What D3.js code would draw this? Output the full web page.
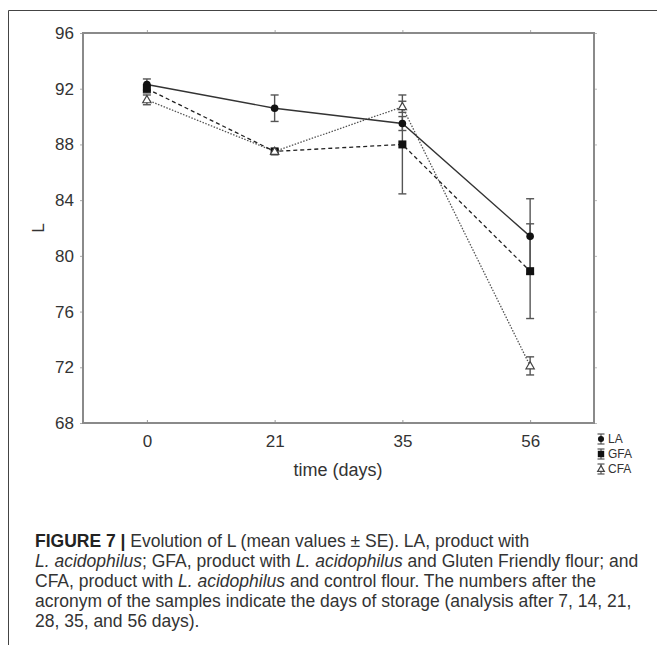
<!DOCTYPE html>
<html><head><meta charset="utf-8">
<script src="https://cdn.jsdelivr.net/npm/d3@7"></script>
<style>body{margin:0;background:#fff}svg{display:block}</style>
</head><body>
<script>
const days = ["0", "21", "35", "56"];
const yTicks = [68, 72, 76, 80, 84, 88, 92, 96];
const seriesNames = ["LA", "GFA", "CFA"];
const LA_mean = [92.3, 90.6, 89.5, 81.4];
const LA_se = [0.4, 0.95, 0.5, 2.7];
const GFA_mean = [92.0, 87.5, 88.0, 78.9];
const GFA_se = [0.3, 0.15, 3.55, 3.4];
const CFA_mean = [91.2, 87.5, 90.7, 72.1];
const CFA_se = [0.35, 0.15, 0.4, 0.65];
const captionLines = [
  [{t:"FIGURE 7 | ", b:true},{t:"Evolution of L (mean values \u00B1 SE). LA, product with"}],
  [{t:"L. acidophilus", i:true},{t:"; GFA, product with "},{t:"L. acidophilus", i:true},{t:" and Gluten Friendly flour; and"}],
  [{t:"CFA, product with "},{t:"L. acidophilus", i:true},{t:" and control flour. The numbers after the"}],
  [{t:"acronym of the samples indicate the days of storage (analysis after 7, 14, 21,"}],
  [{t:"28, 35, and 56 days)."}]
];

const W = 657, H = 645;
const svg = d3.select("body").append("svg").attr("width", W).attr("height", H)
  .style("font-family", "'Liberation Sans', Arial, sans-serif");

// outer figure border
svg.append("path").attr("d", `M8.5,${H} L8.5,10.5 L${W},10.5`).attr("fill","none").attr("stroke","#444").attr("stroke-width",1);

const L = 83, R = 594, T = 33, B = 423;
const x = d3.scalePoint().domain(days).range([L, R]).padding(0.5);
const y = d3.scaleLinear().domain([68, 96]).range([B, T]);

const axisCol = "#8a8a8a";
const g = svg.append("g");
g.append("g").attr("transform", `translate(${L},0)`)
  .call(d3.axisLeft(y).tickValues(yTicks).tickSize(3).tickPadding(6))
  .call(a => { a.select(".domain").remove(); a.selectAll("line").attr("stroke", "#aaa"); a.selectAll("text").attr("font-size", 17).attr("fill", "#333"); });
g.append("g").attr("transform", `translate(${R},0)`)
  .call(d3.axisRight(y).tickValues(yTicks).tickSize(3).tickFormat(""))
  .call(a => { a.select(".domain").remove(); a.selectAll("line").attr("stroke", "#bbb"); });
g.append("g").attr("transform", `translate(0,${B})`)
  .call(d3.axisBottom(x).tickSize(-3).tickPadding(12))
  .call(a => { a.select(".domain").remove(); a.selectAll("line").attr("stroke", "#999"); a.selectAll("text").attr("font-size", 17).attr("fill", "#333"); });
g.append("g").attr("transform", `translate(0,${T})`)
  .call(d3.axisTop(x).tickSize(3).tickFormat(""))
  .call(a => { a.select(".domain").remove(); a.selectAll("line").attr("stroke", "#aaa"); });

svg.append("rect").attr("x", L).attr("y", T).attr("width", R - L).attr("height", B - T)
  .attr("fill", "none").attr("stroke", axisCol).attr("stroke-width", 2);

// axis titles
svg.append("text").attr("transform", `translate(44,${(T+B)/2}) rotate(-90)`).attr("text-anchor","middle")
  .attr("font-size", 17).attr("fill", "#333").text("L");
svg.append("text").attr("x", 338).attr("y", 476).attr("text-anchor","middle")
  .attr("font-size", 18).attr("fill", "#333").text("time (days)");

const series = [
  {name:"LA", mean:LA_mean, se:LA_se, dash:null, col:"#333", marker:"circle"},
  {name:"GFA", mean:GFA_mean, se:GFA_se, dash:"4,3", col:"#222", marker:"square"},
  {name:"CFA", mean:CFA_mean, se:CFA_se, dash:"1.5,1.5", col:"#555", marker:"triangle"}
];

function drawMarker(sel, type, cx, cy, s) {
  if (type === "circle") sel.append("circle").attr("cx", cx).attr("cy", cy).attr("r", 3.8*s).attr("fill", "#111");
  else if (type === "square") sel.append("rect").attr("x", cx-4*s).attr("y", cy-4*s).attr("width", 8*s).attr("height", 8*s).attr("fill", "#111");
  else sel.append("path").attr("d", d3.symbol(d3.symbolTriangle, 30*s*s)()).attr("transform", `translate(${cx},${cy+0.5})`)
    .attr("fill", "#fff").attr("stroke", "#444").attr("stroke-width", 1.2);
}

const lineGen = d3.line().x((d,i) => x(days[i])).y(d => y(d));
series.slice().reverse().forEach(s => {
  svg.append("path").datum(s.mean).attr("d", lineGen).attr("fill","none")
    .attr("stroke", s.col).attr("stroke-width", s.name==="LA"?1.4:1.3).attr("stroke-dasharray", s.dash);
});
series.forEach(s => {
  const eg = svg.append("g").attr("stroke", "#555").attr("stroke-width", 1.4);
  s.mean.forEach((m, i) => {
    const cx = x(days[i]), y1 = y(m + s.se[i]), y2 = y(m - s.se[i]);
    eg.append("line").attr("x1", cx).attr("x2", cx).attr("y1", y1).attr("y2", y2);
    eg.append("line").attr("x1", cx-4).attr("x2", cx+4).attr("y1", y1).attr("y2", y1);
    eg.append("line").attr("x1", cx-4).attr("x2", cx+4).attr("y1", y2).attr("y2", y2);
  });
});
series.forEach(s => {
  const mg = svg.append("g");
  s.mean.forEach((m, i) => drawMarker(mg, s.marker, x(days[i]), y(m), 1));
});

// legend
const lg = svg.append("g");
series.forEach((s, i) => {
  const cy = 439 + i * 15, cx = 601;
  const eg = lg.append("g").attr("stroke", "#555").attr("stroke-width", 1.2);
  eg.append("line").attr("x1", cx).attr("x2", cx).attr("y1", cy-5).attr("y2", cy+5);
  eg.append("line").attr("x1", cx-3.5).attr("x2", cx+3.5).attr("y1", cy-5).attr("y2", cy-5);
  eg.append("line").attr("x1", cx-3.5).attr("x2", cx+3.5).attr("y1", cy+5).attr("y2", cy+5);
  drawMarker(lg, s.marker, cx, cy, 0.8);
  lg.append("text").attr("x", 608).attr("y", cy + 4).attr("font-size", 12).attr("fill", "#333").text(s.name);
});

// caption
const cap = svg.append("g").attr("font-size", 17.5).attr("fill", "#333");
captionLines.forEach((line, i) => {
  const t = cap.append("text").attr("x", 35).attr("y", 547 + i * 20);
  line.forEach(p => {
    t.append("tspan").attr("font-weight", p.b ? "bold" : null).attr("font-style", p.i ? "italic" : null)
      .attr("fill", p.b ? "#222" : null).text(p.t);
  });
});
</script>
</body></html>
